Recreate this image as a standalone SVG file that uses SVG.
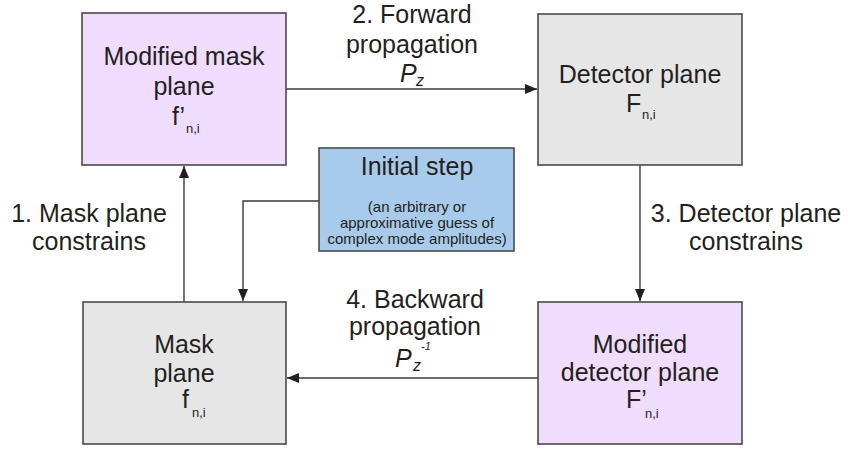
<svg xmlns="http://www.w3.org/2000/svg" width="848" height="454" viewBox="0 0 848 454">
<defs>
<marker id="ah" markerWidth="12" markerHeight="10" refX="12" refY="5" orient="auto" markerUnits="userSpaceOnUse">
<path d="M0,0 L12,5 L0,10 Z" fill="#231f20"/>
</marker>
<style>
.box{stroke:#4a4a4a;stroke-width:1.6}
.purple{fill:#f0dcfc}
.gray{fill:#e6e6e6}
.blue{fill:#a8cbeb}
text{font-family:"Liberation Sans",Arial,sans-serif;fill:#231f20}
.big{font-size:25px;text-anchor:middle}
.small{font-size:15px;text-anchor:middle}
.sub{font-size:13px}
.it{font-style:italic}
.conn{stroke:#3a3a3a;stroke-width:1.4;fill:none}
</style>
</defs>
<rect width="848" height="454" fill="#ffffff"/>
<g id="connectors">
<line class="conn" x1="286" y1="89" x2="537" y2="89" marker-end="url(#ah)"/>
<line class="conn" x1="640" y1="165" x2="640" y2="301" marker-end="url(#ah)"/>
<line class="conn" x1="538" y1="378" x2="287" y2="378" marker-end="url(#ah)"/>
<line class="conn" x1="184" y1="302" x2="184" y2="166" marker-end="url(#ah)"/>
<polyline class="conn" points="319,201 243,201 243,301" marker-end="url(#ah)"/>
<text class="big" x="412" y="23">2. Forward</text>
<text class="big" x="412" y="53">propagation</text>
<text class="it" x="400" y="82" font-size="25">P</text>
<text class="it" x="416" y="86" font-size="16">z</text>
<text class="big" x="746" y="222">3. Detector plane</text>
<text class="big" x="746" y="250">constrains</text>
<text class="big" x="415" y="308">4. Backward</text>
<text class="big" x="415" y="335">propagation</text>
<text class="it" x="395" y="367" font-size="25">P</text>
<text class="it" x="413" y="371" font-size="16">z</text>
<text class="it" x="421" y="350" font-size="11">-1</text>
<text class="big" x="89" y="222">1. Mask plane</text>
<text class="big" x="89" y="250">constrains</text>
</g>
<g id="modified-mask-plane">
<rect class="box purple" x="82" y="13" width="204" height="152"/>
<text class="big" x="184" y="65">Modified mask</text>
<text class="big" x="184" y="95">plane</text>
<text x="172" y="125" font-size="25">f’</text>
<text class="sub" x="186" y="133">n,i</text>
</g>
<g id="detector-plane">
<rect class="box gray" x="538" y="14" width="204" height="151"/>
<text class="big" x="640" y="83">Detector plane</text>
<text x="626" y="112" font-size="25">F</text>
<text class="sub" x="642" y="119">n,i</text>
</g>
<g id="initial-step">
<rect class="box blue" x="319" y="148" width="195" height="103"/>
<text class="big" x="417" y="175">Initial step</text>
<text class="small" x="417" y="212">(an arbitrary or</text>
<text class="small" x="417" y="228">approximative guess of</text>
<text class="small" x="417" y="244">complex mode amplitudes)</text>
</g>
<g id="mask-plane">
<rect class="box gray" x="83" y="302" width="203" height="142"/>
<text class="big" x="184" y="353">Mask</text>
<text class="big" x="184" y="382">plane</text>
<text x="182" y="408" font-size="25">f</text>
<text class="sub" x="192" y="417">n,i</text>
</g>
<g id="modified-detector-plane">
<rect class="box purple" x="538" y="302" width="204" height="142"/>
<text class="big" x="640" y="353">Modified</text>
<text class="big" x="640" y="381">detector plane</text>
<text x="626" y="408" font-size="25">F’</text>
<text class="sub" x="645" y="418">n,i</text>
</g>
</svg>
